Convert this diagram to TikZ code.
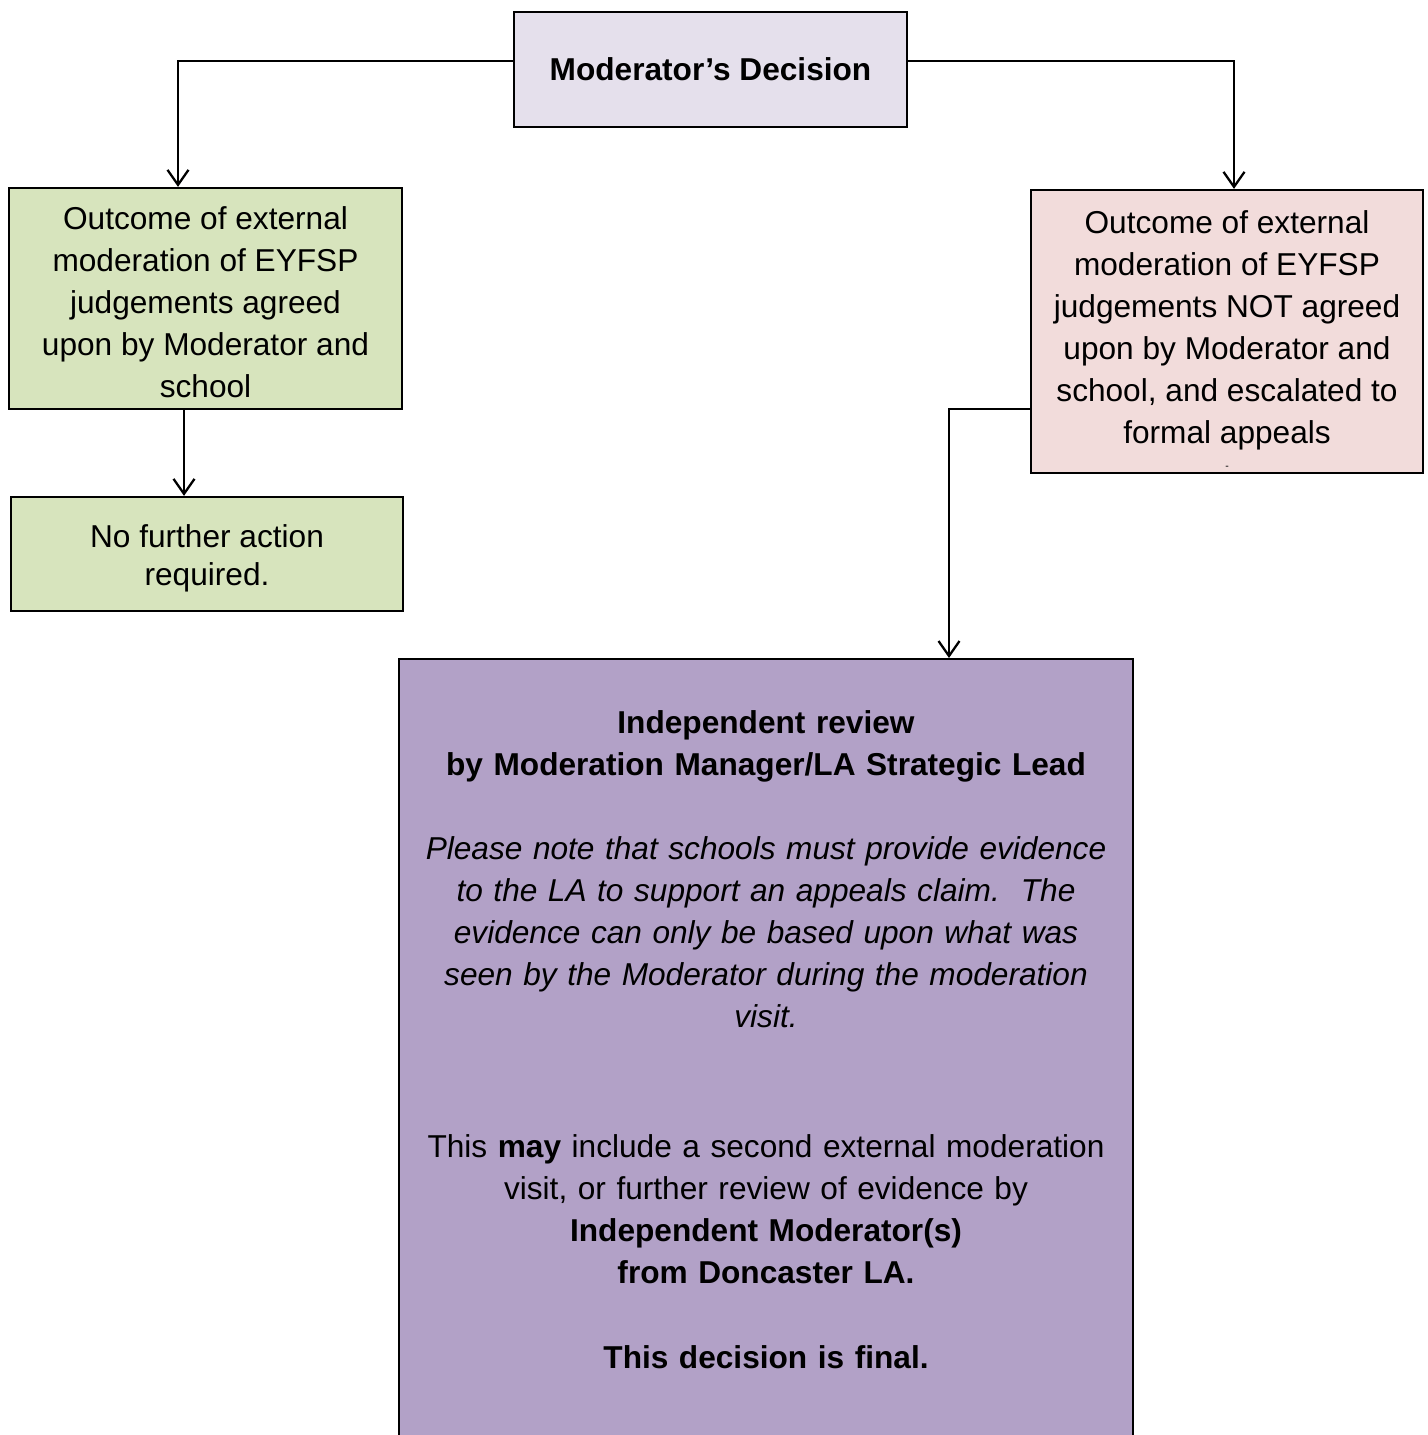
\documentclass[tikz,border=0pt]{standalone}
\usepackage{fontspec}
\setmainfont{Liberation Sans}
\usetikzlibrary{arrows.meta}
\definecolor{decisionFill}{HTML}{E5E0EC}
\definecolor{agreedFill}{HTML}{D7E4BD}
\definecolor{appealFill}{HTML}{F2DCDB}
\definecolor{reviewFill}{HTML}{B2A1C7}
\begin{document}
\begin{tikzpicture}
[boxDecorate/.style={draw,line width=1.3pt,align=center,inner sep=0pt,
   font=\fontsize{18}{23.9}\selectfont},%
  lineDecorate/.style={line width=1.3pt,-{Straight Barb[length=0.3cm,width=0.42cm,line width=1.3pt]}},%
  textDecorate/.style={align=center,inner sep=0pt,font=\fontsize{18}{23.9}\selectfont}]
\useasboundingbox (0,0) rectangle (28.56,-28.7);
%% boxes
\node (decision) at (14.21,-1.39) [boxDecorate,fill=decisionFill,
  minimum width=7.86cm,minimum height=2.3cm] {\textbf{Moderator’s Decision}};
\node (agreed) at (4.11,-5.97) [boxDecorate,fill=agreedFill,
  minimum width=7.86cm,minimum height=4.42cm]
  {\rule{0pt}{17.5pt}Outcome of external\\moderation of EYFSP\\judgements agreed\\upon by Moderator and\\school};
\node (nfa) at (4.14,-11.08) [boxDecorate,fill=agreedFill,
  minimum width=7.84cm,minimum height=2.28cm] {\rule{0pt}{18pt}No further action\\[-2pt]required.};
\node (notagreed) at (24.54,-6.63) [boxDecorate,fill=appealFill,
  minimum width=7.84cm,minimum height=5.66cm]
  {\rule{0pt}{23pt}Outcome of external\\moderation of EYFSP\\judgements NOT agreed\\upon by Moderator and\\school, and escalated to\\formal appeals\\[-9pt]{\fontsize{6}{6}\selectfont -}};
\node (review) at (15.32,-13.16) [boxDecorate,fill=reviewFill,anchor=north,
  minimum width=14.68cm,minimum height=16.44cm] {};
\node (reviewText) at (15.32,-14.2) [textDecorate,anchor=north,text width=14cm]
  {\textbf{Independent review}\\
   \textbf{by Moderation Manager/LA Strategic Lead}\\[23.9pt]
   \textit{Please note that schools must provide evidence}\\
   \textit{to the LA to support an appeals claim.\ \ The}\\
   \textit{evidence can only be based upon what was}\\
   \textit{seen by the Moderator during the moderation}\\
   \textit{visit.}\\[50pt]
   This \textbf{may} include a second external moderation\\
   visit, or further review of evidence by\\
   \textbf{Independent Moderator(s)}\\
   \textbf{from Doncaster LA.}\\[24.5pt]
   \textbf{This decision is final.}};
%% connectors
\draw[lineDecorate] ([yshift=0.17cm]decision.west) -| ([xshift=-0.55cm]agreed.north);
\draw[lineDecorate] ([yshift=0.17cm]decision.east) -| ([xshift=0.14cm]notagreed.north);
\draw[lineDecorate] ([xshift=-0.43cm]agreed.south) -- ([xshift=-0.43cm]agreed.south |- nfa.north);
\draw[lineDecorate] ([yshift=-1.55cm]notagreed.west) -| ([xshift=3.66cm]review.north);
\end{tikzpicture}
\end{document}
